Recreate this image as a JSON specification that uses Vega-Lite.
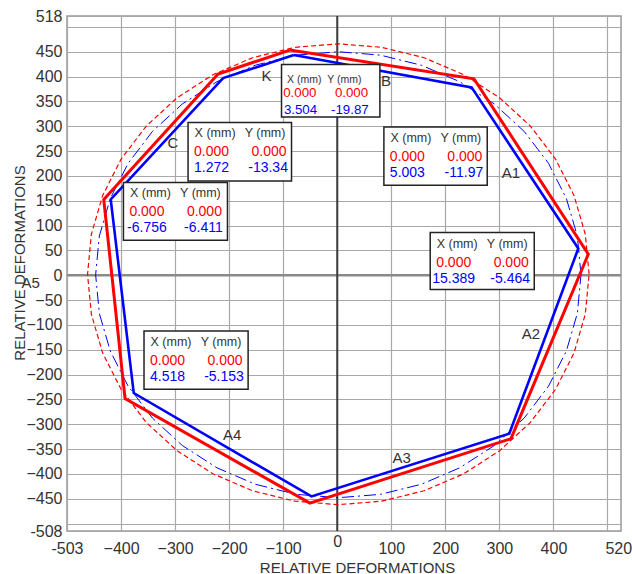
{
  "$schema": "https://vega.github.io/schema/vega-lite/v6.json",
  "width": 554,
  "height": 515,
  "autosize": {"type": "none"},
  "padding": {"left": 67, "top": 16, "right": 11, "bottom": 43},
  "config": {
    "font": "Liberation Sans",
    "view": {"stroke": "#9a9a9a", "strokeWidth": 1.5}
  },
  "datasets": {
    "zero": [
      {"line": "v", "x": 0, "y": -515, "xe": 0, "ye": 522},
      {"line": "h", "x": -500, "y": 0, "xe": 525, "ye": 0}
    ],
    "polys": [
      {"series": "red", "i": 0, "x": -87.7, "y": 453.4},
      {"series": "red", "i": 1, "x": 252.9, "y": 395.6},
      {"series": "red", "i": 2, "x": 464.5, "y": 42.3},
      {"series": "red", "i": 3, "x": 321.4, "y": -329.1},
      {"series": "red", "i": 4, "x": -50.7, "y": -458.9},
      {"series": "red", "i": 5, "x": -392.6, "y": -248.5},
      {"series": "red", "i": 6, "x": -432, "y": 152.6},
      {"series": "red", "i": 7, "x": -220.5, "y": 405.1},
      {"series": "red", "i": 8, "x": -87.7, "y": 453.4},
      {"series": "blue", "i": 0, "x": -80.3, "y": 443.4},
      {"series": "blue", "i": 1, "x": 248.6, "y": 378.3},
      {"series": "blue", "i": 2, "x": 446, "y": 53.8},
      {"series": "blue", "i": 3, "x": 318.2, "y": -319},
      {"series": "blue", "i": 4, "x": -47.6, "y": -445.4},
      {"series": "blue", "i": 5, "x": -376.5, "y": -237.2},
      {"series": "blue", "i": 6, "x": -419.1, "y": 152.6},
      {"series": "blue", "i": 7, "x": -211.2, "y": 397},
      {"series": "blue", "i": 8, "x": -80.3, "y": 443.4}
    ],
    "circles": [
      {"series": "red", "i": 0, "x": 466, "y": 2},
      {"series": "red", "i": 1, "x": 458.9, "y": 82.6},
      {"series": "red", "i": 2, "x": 438, "y": 160.7},
      {"series": "red", "i": 3, "x": 403.8, "y": 234},
      {"series": "red", "i": 4, "x": 357.4, "y": 300.3},
      {"series": "red", "i": 5, "x": 300.3, "y": 357.4},
      {"series": "red", "i": 6, "x": 234, "y": 403.8},
      {"series": "red", "i": 7, "x": 160.7, "y": 438},
      {"series": "red", "i": 8, "x": 82.6, "y": 458.9},
      {"series": "red", "i": 9, "x": 2, "y": 466},
      {"series": "red", "i": 10, "x": -78.6, "y": 458.9},
      {"series": "red", "i": 11, "x": -156.7, "y": 438},
      {"series": "red", "i": 12, "x": -230, "y": 403.8},
      {"series": "red", "i": 13, "x": -296.3, "y": 357.4},
      {"series": "red", "i": 14, "x": -353.4, "y": 300.3},
      {"series": "red", "i": 15, "x": -399.8, "y": 234},
      {"series": "red", "i": 16, "x": -434, "y": 160.7},
      {"series": "red", "i": 17, "x": -454.9, "y": 82.6},
      {"series": "red", "i": 18, "x": -462, "y": 2},
      {"series": "red", "i": 19, "x": -454.9, "y": -78.6},
      {"series": "red", "i": 20, "x": -434, "y": -156.7},
      {"series": "red", "i": 21, "x": -399.8, "y": -230},
      {"series": "red", "i": 22, "x": -353.4, "y": -296.3},
      {"series": "red", "i": 23, "x": -296.3, "y": -353.4},
      {"series": "red", "i": 24, "x": -230, "y": -399.8},
      {"series": "red", "i": 25, "x": -156.7, "y": -434},
      {"series": "red", "i": 26, "x": -78.6, "y": -454.9},
      {"series": "red", "i": 27, "x": 2, "y": -462},
      {"series": "red", "i": 28, "x": 82.6, "y": -454.9},
      {"series": "red", "i": 29, "x": 160.7, "y": -434},
      {"series": "red", "i": 30, "x": 234, "y": -399.8},
      {"series": "red", "i": 31, "x": 300.3, "y": -353.4},
      {"series": "red", "i": 32, "x": 357.4, "y": -296.3},
      {"series": "red", "i": 33, "x": 403.8, "y": -230},
      {"series": "red", "i": 34, "x": 438, "y": -156.7},
      {"series": "red", "i": 35, "x": 458.9, "y": -78.6},
      {"series": "red", "i": 36, "x": 466, "y": 2},
      {"series": "blue", "i": 0, "x": 451, "y": 1},
      {"series": "blue", "i": 1, "x": 444.2, "y": 78.9},
      {"series": "blue", "i": 2, "x": 423.9, "y": 154.6},
      {"series": "blue", "i": 3, "x": 390.8, "y": 225.5},
      {"series": "blue", "i": 4, "x": 345.9, "y": 289.6},
      {"series": "blue", "i": 5, "x": 290.6, "y": 344.9},
      {"series": "blue", "i": 6, "x": 226.5, "y": 389.8},
      {"series": "blue", "i": 7, "x": 155.6, "y": 422.9},
      {"series": "blue", "i": 8, "x": 79.9, "y": 443.2},
      {"series": "blue", "i": 9, "x": 2, "y": 450},
      {"series": "blue", "i": 10, "x": -75.9, "y": 443.2},
      {"series": "blue", "i": 11, "x": -151.6, "y": 422.9},
      {"series": "blue", "i": 12, "x": -222.5, "y": 389.8},
      {"series": "blue", "i": 13, "x": -286.6, "y": 344.9},
      {"series": "blue", "i": 14, "x": -341.9, "y": 289.6},
      {"series": "blue", "i": 15, "x": -386.8, "y": 225.5},
      {"series": "blue", "i": 16, "x": -419.9, "y": 154.6},
      {"series": "blue", "i": 17, "x": -440.2, "y": 78.9},
      {"series": "blue", "i": 18, "x": -447, "y": 1},
      {"series": "blue", "i": 19, "x": -440.2, "y": -76.9},
      {"series": "blue", "i": 20, "x": -419.9, "y": -152.6},
      {"series": "blue", "i": 21, "x": -386.8, "y": -223.5},
      {"series": "blue", "i": 22, "x": -341.9, "y": -287.6},
      {"series": "blue", "i": 23, "x": -286.6, "y": -342.9},
      {"series": "blue", "i": 24, "x": -222.5, "y": -387.8},
      {"series": "blue", "i": 25, "x": -151.6, "y": -420.9},
      {"series": "blue", "i": 26, "x": -75.9, "y": -441.2},
      {"series": "blue", "i": 27, "x": 2, "y": -448},
      {"series": "blue", "i": 28, "x": 79.9, "y": -441.2},
      {"series": "blue", "i": 29, "x": 155.6, "y": -420.9},
      {"series": "blue", "i": 30, "x": 226.5, "y": -387.8},
      {"series": "blue", "i": 31, "x": 290.6, "y": -342.9},
      {"series": "blue", "i": 32, "x": 345.9, "y": -287.6},
      {"series": "blue", "i": 33, "x": 390.8, "y": -223.5},
      {"series": "blue", "i": 34, "x": 423.9, "y": -152.6},
      {"series": "blue", "i": 35, "x": 444.2, "y": -76.9},
      {"series": "blue", "i": 36, "x": 451, "y": 1}
    ],
    "boxes": [
      {"box": "K", "x": -103.1, "xe": 78.9, "y": 424.2, "ye": 318.4, "rx": "0.000", "ry": "0.000", "bx": "3.504", "by": "-19.87"},
      {"box": "C", "x": -276, "xe": -84.6, "y": 307.7, "ye": 190, "rx": "0.000", "ry": "0.000", "bx": "1.272", "by": "-13.34"},
      {"box": "A5", "x": -395.6, "xe": -203.1, "y": 186.8, "ye": 70.5, "rx": "0.000", "ry": "0.000", "bx": "-6.756", "by": "-6.411"},
      {"box": "A1", "x": 86.3, "xe": 277.5, "y": 298.3, "ye": 181.4, "rx": "0.000", "ry": "0.000", "bx": "5.003", "by": "-11.97"},
      {"box": "A2", "x": 172, "xe": 364.5, "y": 86, "ye": -28.8, "rx": "0.000", "ry": "0.000", "bx": "15.389", "by": "-5.464"},
      {"box": "A4", "x": -357.5, "xe": -164.9, "y": -112.3, "ye": -229.7, "rx": "0.000", "ry": "0.000", "bx": "4.518", "by": "-5.153"}
    ],
    "labels": [
      {"label": "K", "x": -130.9, "y": 401},
      {"label": "B", "x": 90, "y": 391},
      {"label": "C", "x": -303.8, "y": 266.6},
      {"label": "A1", "x": 321.4, "y": 206.2},
      {"label": "A2", "x": 358.4, "y": -117.5},
      {"label": "A3", "x": 119, "y": -368.2},
      {"label": "A4", "x": -194.6, "y": -321},
      {"label": "A5", "x": -567.2, "y": -15.1}
    ]
  },
  "encoding": {
    "x": {
      "field": "x", "type": "quantitative",
      "scale": {"domain": [-500, 525], "nice": false, "zero": false},
      "axis": {
        "title": "RELATIVE DEFORMATIONS",
        "values": [-500, -400, -300, -200, -100, 0, 100, 200, 300, 400, 500, 520],
        "labelExpr": "datum.value == -500 ? '-503' : (datum.value == 500 ? '' : datum.label)",
        "grid": true, "gridColor": "#a8a8a8", "gridWidth": 1.2,
        "gridOpacity": {"condition": {"test": "datum.value == 520", "value": 0}, "value": 1},
        "ticks": false, "tickSize": 0, "domain": false,
        "labelFontSize": 16, "labelColor": "#333333",
        "labelPadding": {"condition": {"test": "datum.value == 0", "value": 2.5}, "value": 9},
        "labelFlush": false, "labelOverlap": false, "labelBound": false,
        "titleFontSize": 15, "titleFontWeight": "normal", "titleColor": "#333333",
        "titleX": 290, "titleY": 36, "titleBaseline": "middle", "titleAlign": "center"
      }
    },
    "y": {
      "field": "y", "type": "quantitative",
      "scale": {"domain": [-515, 522], "nice": false, "zero": false},
      "axis": {
        "title": "RELATIVE DEFORMATIONS",
        "values": [-515, -500, -450, -400, -350, -300, -250, -200, -150, -100, -50, 0, 50, 100, 150, 200, 250, 300, 350, 400, 450, 500, 522],
        "labelExpr": "datum.value == 522 ? '518' : (datum.value == -515 ? '-508' : (abs(datum.value) == 500 ? '' : datum.label))",
        "grid": true, "gridColor": "#a8a8a8", "gridWidth": 1.2,
        "ticks": false, "tickSize": 0, "domain": false,
        "labelFontSize": 16, "labelColor": "#333333", "labelPadding": 5,
        "labelFlush": false, "labelOverlap": false, "labelBound": false,
        "titleFontSize": 15, "titleFontWeight": "normal", "titleColor": "#333333",
        "titleAngle": -90, "titleX": -48, "titleY": 246.5, "titleBaseline": "middle", "titleAlign": "center"
      }
    }
  },
  "layer": [
    {
      "data": {"name": "zero"},
      "transform": [{"filter": "datum.line == 'h'"}],
      "mark": {"type": "rule", "color": "#8a8a8a", "strokeWidth": 2.5},
      "encoding": {"x2": {"field": "xe"}, "y2": {"field": "ye"}}
    },
    {
      "data": {"name": "zero"},
      "transform": [{"filter": "datum.line == 'v'"}],
      "mark": {"type": "rule", "color": "#3c3c3c", "strokeWidth": 2},
      "encoding": {"x2": {"field": "xe"}, "y2": {"field": "ye"}}
    },
    {
      "data": {"name": "circles"},
      "transform": [{"filter": "datum.series == 'red'"}],
      "mark": {"type": "line", "color": "#ff0000", "strokeWidth": 1.2, "strokeDash": [5, 3]},
      "encoding": {"order": {"field": "i", "type": "quantitative"}}
    },
    {
      "data": {"name": "circles"},
      "transform": [{"filter": "datum.series == 'blue'"}],
      "mark": {"type": "line", "color": "#0000ff", "strokeWidth": 1, "strokeDash": [12, 4, 2, 4]},
      "encoding": {"order": {"field": "i", "type": "quantitative"}}
    },
    {
      "data": {"name": "polys"},
      "transform": [{"filter": "datum.series == 'blue'"}],
      "mark": {"type": "line", "color": "#0000ff", "strokeWidth": 2.6, "strokeJoin": "miter"},
      "encoding": {"order": {"field": "i", "type": "quantitative"}}
    },
    {
      "data": {"name": "polys"},
      "transform": [{"filter": "datum.series == 'red'"}],
      "mark": {"type": "line", "color": "#ff0000", "strokeWidth": 3, "strokeJoin": "miter"},
      "encoding": {"order": {"field": "i", "type": "quantitative"}}
    },
    {
      "data": {"name": "boxes"},
      "mark": {"type": "rect", "fill": "#ffffff", "stroke": "#222222", "strokeWidth": 1.5},
      "encoding": {"x2": {"field": "xe"}, "y2": {"field": "ye"}}
    },
    {
      "data": {"name": "boxes"},
      "transform": [{"filter": "datum.box != 'K'"}],
      "layer": [
        {"mark": {"type": "text", "text": "X (mm)", "dx": 27, "dy": 11, "fontSize": 12.5, "color": "#333333", "align": "center", "baseline": "middle"}},
        {"mark": {"type": "text", "text": "Y (mm)", "dx": 77, "dy": 11, "fontSize": 12.5, "color": "#333333", "align": "center", "baseline": "middle"}},
        {"mark": {"type": "text", "dx": 23.5, "dy": 30, "fontSize": 14, "color": "#ff0000", "align": "center", "baseline": "middle"}, "encoding": {"text": {"field": "rx"}}},
        {"mark": {"type": "text", "dx": 81, "dy": 30, "fontSize": 14, "color": "#ff0000", "align": "center", "baseline": "middle"}, "encoding": {"text": {"field": "ry"}}},
        {"mark": {"type": "text", "dx": 23.5, "dy": 46, "fontSize": 14, "color": "#0000ff", "align": "center", "baseline": "middle"}, "encoding": {"text": {"field": "bx"}}},
        {"mark": {"type": "text", "dx": 80, "dy": 46, "fontSize": 14, "color": "#0000ff", "align": "center", "baseline": "middle"}, "encoding": {"text": {"field": "by"}}}
      ]
    },
    {
      "data": {"name": "boxes"},
      "transform": [{"filter": "datum.box == 'K'"}],
      "layer": [
        {"mark": {"type": "text", "text": "X (mm)", "dx": 22.8, "dy": 15.5, "fontSize": 10.5, "color": "#333333", "align": "center", "baseline": "middle"}},
        {"mark": {"type": "text", "text": "Y (mm)", "dx": 62.8, "dy": 15.5, "fontSize": 10.5, "color": "#333333", "align": "center", "baseline": "middle"}},
        {"mark": {"type": "text", "dx": 18.3, "dy": 28.5, "fontSize": 13.3, "color": "#ff0000", "align": "center", "baseline": "middle"}, "encoding": {"text": {"field": "rx"}}},
        {"mark": {"type": "text", "dx": 70, "dy": 28.5, "fontSize": 13.3, "color": "#ff0000", "align": "center", "baseline": "middle"}, "encoding": {"text": {"field": "ry"}}},
        {"mark": {"type": "text", "dx": 19, "dy": 45, "fontSize": 13.3, "color": "#0000ff", "align": "center", "baseline": "middle"}, "encoding": {"text": {"field": "bx"}}},
        {"mark": {"type": "text", "dx": 68.3, "dy": 45, "fontSize": 13.3, "color": "#0000ff", "align": "center", "baseline": "middle"}, "encoding": {"text": {"field": "by"}}}
      ]
    },
    {
      "data": {"name": "labels"},
      "mark": {"type": "text", "fontSize": 15, "color": "#333333", "align": "center", "baseline": "middle"},
      "encoding": {"text": {"field": "label"}}
    }
  ]
}
